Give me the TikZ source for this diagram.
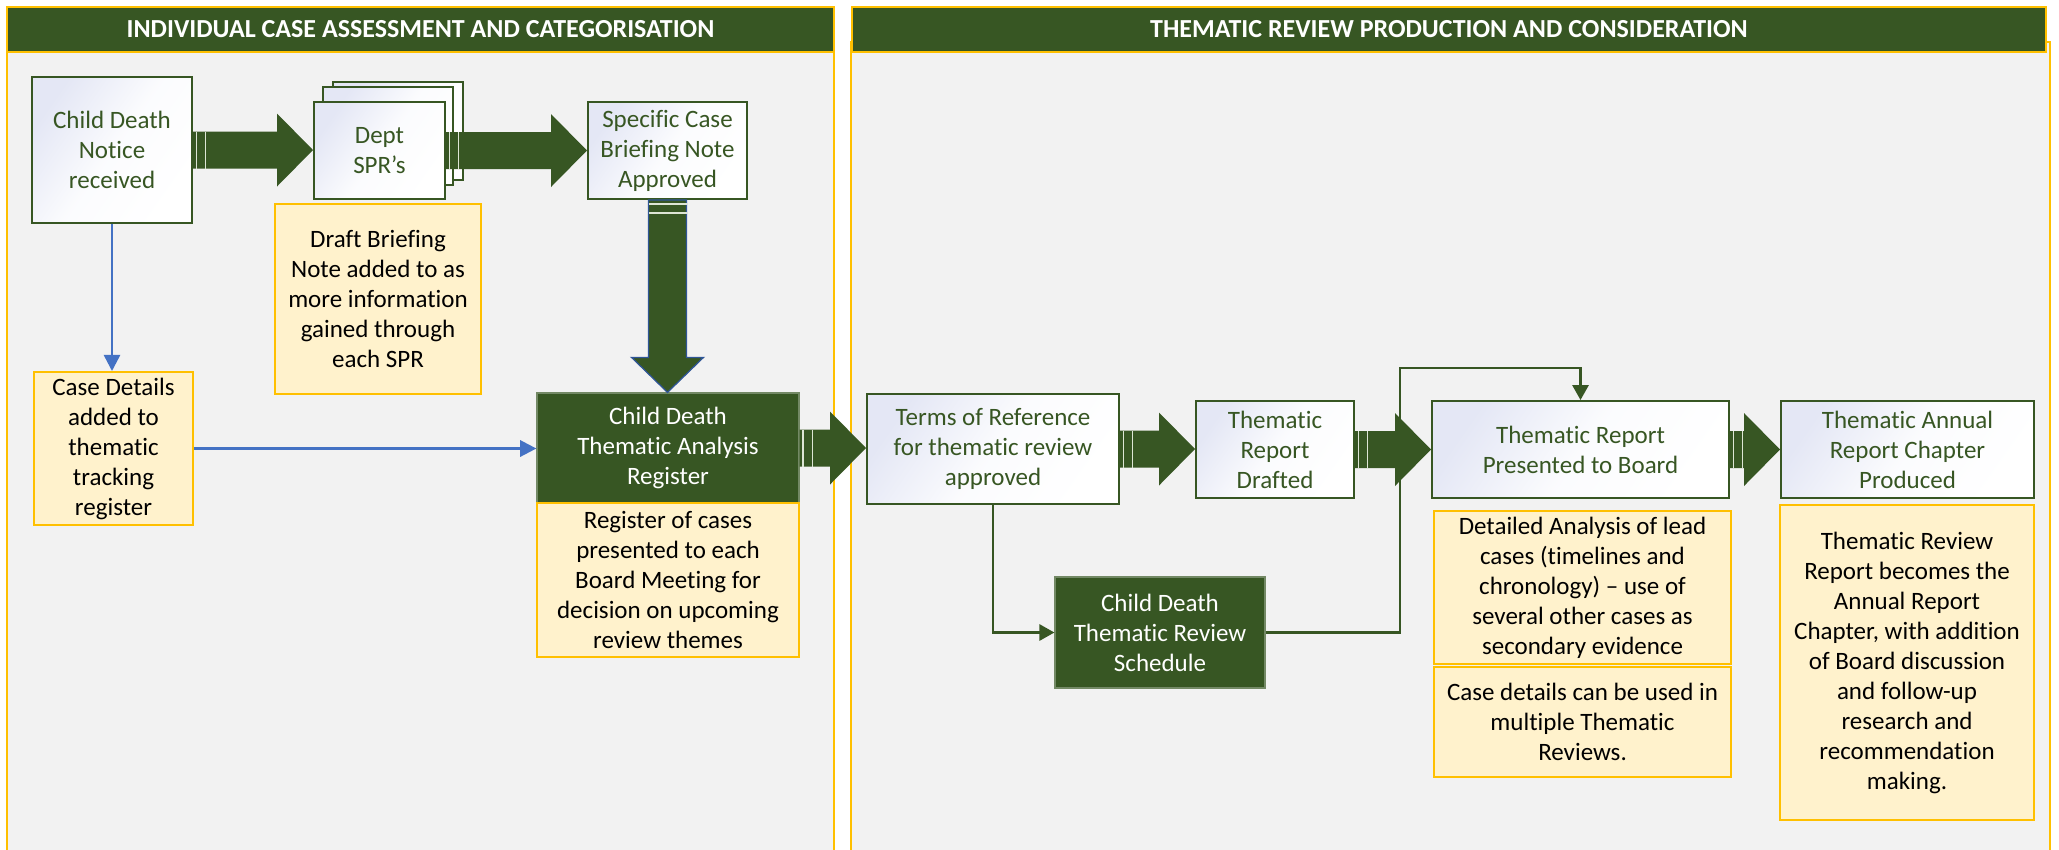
\documentclass[tikz,border=0pt]{standalone}
\usepackage{fontspec}
\setmainfont{Carlito}[Ligatures={NoCommon}]
\usetikzlibrary{arrows.meta,calc}
\definecolor{dgreen}{HTML}{375623}
\definecolor{ygold}{HTML}{FFC000}
\definecolor{yfill}{HTML}{FFF2CC}
\definecolor{pgray}{HTML}{F2F2F2}
\definecolor{lblue}{HTML}{4472C4}
\definecolor{lav}{HTML}{E4E7F5}
\definecolor{stripe}{HTML}{DDE5D5}
\definecolor{aoutline}{HTML}{2F5597}
\tikzset{
  sz/.style 2 args={minimum width=#1*0.4pt, minimum height=#2*0.4pt},
  base/.style={font=\fontsize{10}{12}\selectfont, align=center, inner sep=0pt},
  wbox/.style={base, draw=dgreen, line width=0.8pt, top color=lav, bottom color=white, middle color=white!85!lav, shading angle=55, text=dgreen},
  gbox/.style={base, fill=dgreen, draw=dgreen!70!white, line width=0.5pt, text=white},
  ybox/.style={base, fill=yfill, draw=ygold, line width=0.8pt, text=black},
  hdr/.style={fill=dgreen, draw=ygold, line width=0.8pt, inner sep=0pt, text=white, font=\bfseries\fontsize{10.4}{12}\selectfont},
  panel/.style={fill=pgray, draw=ygold, line width=0.8pt},
  stripeline/.style={draw=stripe, line width=0.5pt},
  bluearrow/.style={draw=lblue, line width=1pt, -{Triangle[length=6.5pt,width=6.5pt]}},
  greenarrow/.style={draw=dgreen, line width=0.9pt, -{Triangle[length=6pt,width=6.5pt]}},
}
\newcommand\hfat[2]{%
  \fill[dgreen] let \p1=#1, \p2=#2 in
    (\x1,\y1+7.4pt) -- (\x2-14.4pt,\y1+7.4pt) -- (\x2-14.4pt,\y1+14.6pt) -- (\x2,\y1)
    -- (\x2-14.4pt,\y1-14.6pt) -- (\x2-14.4pt,\y1-7.4pt) -- (\x1,\y1-7.4pt) -- cycle;
  \draw[stripeline] let \p1=#1 in
    (\x1+1.3pt,\y1+7.4pt) -- (\x1+1.3pt,\y1-7.4pt)
    (\x1+5pt,\y1+7.4pt) -- (\x1+5pt,\y1-7.4pt);
}
\newcommand\vfat[2]{%
  \filldraw[fill=dgreen, draw=aoutline, line width=0.5pt] let \p1=#1, \p2=#2 in
    (\x1-7.6pt,\y1) -- (\x1-7.6pt,\y2+14pt) -- (\x1-14.4pt,\y2+14pt) -- (\x1,\y2)
    -- (\x1+14.4pt,\y2+14pt) -- (\x1+7.6pt,\y2+14pt) -- (\x1+7.6pt,\y1) -- cycle;
  \draw[stripeline] let \p1=#1 in
    (\x1-7.6pt,\y1-1.6pt) -- (\x1+7.6pt,\y1-1.6pt)
    (\x1-7.6pt,\y1-5.2pt) -- (\x1+7.6pt,\y1-5.2pt);
}
\begin{document}
\begin{tikzpicture}[x=0.4pt,y=-0.4pt]
\useasboundingbox (0,0) rectangle (2059,849);
\clip (0,0) rectangle (2059,849);
\fill[white] (0,0) rectangle (2059,849);
% panels
\draw[panel] (7,52) rectangle (834,870);
\draw[panel] (851,42) rectangle (2050,870);
\node[hdr, sz={827}{45}] (h1) at (420.5,29.5) {INDIVIDUAL CASE ASSESSMENT AND CATEGORISATION};
\node[hdr, sz={1194}{45}] (h2) at (1449,29.5) {THEMATIC REVIEW PRODUCTION AND CONSIDERATION};
% left panel nodes
\node[wbox, sz={130}{98}] (dept3) at (398,131) {};
\node[wbox, sz={130}{98}] (dept2) at (388,136) {};
\node[wbox, sz={131}{97}] (dept) at (379.5,150.5) {Dept\\SPR’s};
\node[wbox, sz={160}{146}] (cdn) at (112,150) {Child Death\\Notice\\received};
\node[wbox, sz={159}{97}] (scb) at (667.5,150.5) {Specific Case\\Briefing Note\\Approved};
\node[ybox, sz={206}{190}] (draft) at (378,299) {Draft Briefing\\Note added to as\\more information\\gained through\\each SPR};
\node[ybox, sz={159}{153}] (casedet) at (113.5,448.5) {Case Details\\added to\\thematic\\tracking\\register};
\node[gbox, sz={262}{110}] (reg) at (668,448) {Child Death\\Thematic Analysis\\Register};
\node[ybox, sz={262}{154}] (regnote) at (668,580) {Register of cases\\presented to each\\Board Meeting for\\decision on upcoming\\review themes};
% right panel nodes
\node[wbox, sz={252}{110}] (tor) at (993,449) {Terms of Reference\\for thematic review\\approved};
\node[wbox, sz={158}{97}] (trd) at (1275,449.5) {Thematic\\Report\\Drafted};
\node[wbox, sz={297}{97}] (trp) at (1580.5,449.5) {Thematic Report\\Presented to Board};
\node[wbox, sz={253}{97}] (tarc) at (1907.5,449.5) {Thematic Annual\\Report Chapter\\Produced};
\node[gbox, sz={210}{111}] (sched) at (1160,632.5) {Child Death\\Thematic Review\\Schedule};
\node[ybox, sz={297}{153}] (det) at (1582.5,587.5) {Detailed Analysis of lead\\cases (timelines and\\chronology) – use of\\several other cases as\\secondary evidence};
\node[ybox, sz={297}{110}] (cdu) at (1582.5,722) {Case details can be used in\\multiple Thematic\\Reviews.};
\node[ybox, sz={254}{315}] (trrep) at (1907,662.5) {Thematic Review\\Report becomes the\\Annual Report\\Chapter, with addition\\of Board discussion\\and follow-up\\research and\\recommendation\\making.};
% thin connectors
\draw[bluearrow] (cdn.south) -- (cdn.south |- casedet.north);
\draw[bluearrow] (casedet.east) -- (casedet.east -| reg.west);
\draw[greenarrow] (tor.south) |- (sched.west);
\coordinate (j1) at (1400,368);
\draw[greenarrow] (sched.east) -| (j1) -| (trp.north);
% fat arrows
\hfat{(cdn.east)}{(dept.west)}
\hfat{(dept.east)}{(scb.west)}
\vfat{(scb.south)}{(reg.north)}
\hfat{(reg.east)}{(tor.west)}
\hfat{(tor.east)}{(trd.west)}
\hfat{(trd.east)}{(trp.west)}
\hfat{(trp.east)}{(tarc.west)}
\end{tikzpicture}
\end{document}
